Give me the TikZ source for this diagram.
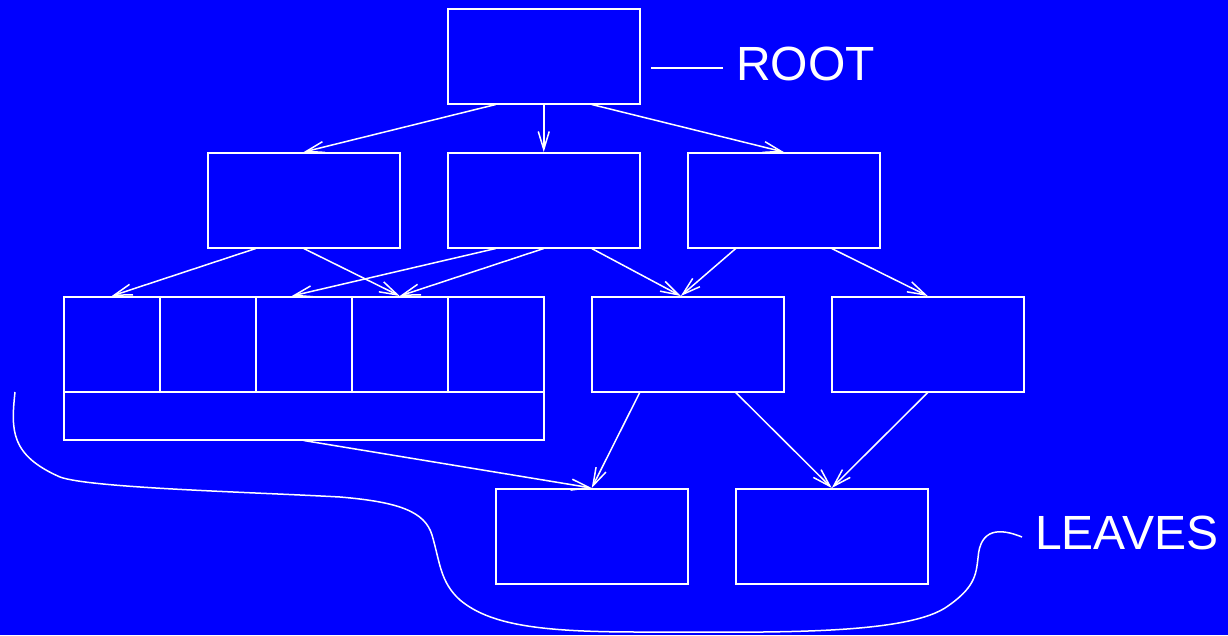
\documentclass[tikz,border=0pt]{standalone}
\usepackage{fontspec}
\setmainfont{Liberation Sans}
\usetikzlibrary{arrows.meta}
\definecolor{bgblue}{RGB}{0,0,255}
\begin{document}
\begin{tikzpicture}[x=1pt,y=-1pt,
  box/.style={draw=white,line width=1.5pt,inner sep=0pt,minimum width=192pt,minimum height=95pt,anchor=north west},
  cell/.style={draw=white,line width=1.5pt,inner sep=0pt,minimum width=96pt,minimum height=95pt,anchor=north west},
  conn/.style={draw=white,line width=1.5pt,-{Straight Barb[length=18pt,width=11pt,line width=1.5pt]}},
  plain/.style={draw=white,line width=1.5pt},
  lbl/.style={text=white,font=\fontsize{48}{50}\selectfont,inner sep=0pt,anchor=base west}]
\fill[bgblue] (0,0) rectangle (1228,635);
\useasboundingbox (0,0) rectangle (1228,635);
% boxes
\node[box] (root) at (447,8) {};
\node[box] (a) at (207,152) {};
\node[box] (b) at (447,152) {};
\node[box] (c) at (687,152) {};
\node[draw=white,line width=1.5pt,inner sep=0pt,minimum width=480pt,minimum height=143pt,anchor=north west] (big) at (63,296) {};
\node[cell] (c1) at (63,296) {};
\node[cell] (c2) at (159,296) {};
\node[cell] (c3) at (255,296) {};
\node[cell] (c4) at (351,296) {};
\node[cell] (c5) at (447,296) {};
\node[box] (d) at (591,296) {};
\node[box] (e) at (831,296) {};
\node[box] (f) at (495,488) {};
\node[box] (g) at (735,488) {};
% labels
\node[lbl] (rootlbl) at (736,80) {ROOT};
\node[lbl] (leaveslbl) at (1035,549) {LEAVES};
\coordinate (rl1) at (651,68);
\coordinate (rl2) at (723,68);
\draw[plain] (rl1) -- (rl2);
% connectors
\draw[conn] ([xshift=-48pt]root.south) -- (a.north);
\draw[conn] (root.south) -- (b.north);
\draw[conn] ([xshift=48pt]root.south) -- (c.north);
\draw[conn] ([xshift=-48pt]a.south) -- (c1.north);
\draw[conn] (a.south) -- (c4.north);
\draw[conn] ([xshift=-48pt]b.south) -- ([xshift=-12pt]c3.north);
\draw[conn] (b.south) -- (c4.north);
\draw[conn] ([xshift=48pt]b.south) -- ([xshift=-7pt]d.north);
\draw[conn] ([xshift=-48pt]c.south) -- ([xshift=-7pt]d.north);
\draw[conn] ([xshift=48pt]c.south) -- (e.north);
\draw[conn] (big.south) -- (f.north);
\draw[conn] ([xshift=-48pt]d.south) -- (f.north);
\draw[conn] ([xshift=48pt]d.south) -- (g.north);
\draw[conn] (e.south) -- (g.north);
% brace curve
\coordinate (cs) at (15,392);
\coordinate (ce) at (1022,537);
\draw[plain] (cs) .. controls (11,430) and (10,455) .. (60,477)
  .. controls (90,488) and (250,492) .. (340,497)
  .. controls (400,502) and (425,512) .. (432,535)
  .. controls (440,562) and (440,582) .. (460,600)
  .. controls (490,625) and (540,632) .. (640,632)
  .. controls (760,632) and (900,636) .. (945,608)
  .. controls (975,588) and (976,575) .. (978,558)
  .. controls (980,528) and (1000,528) .. (ce);
\end{tikzpicture}
\end{document}
